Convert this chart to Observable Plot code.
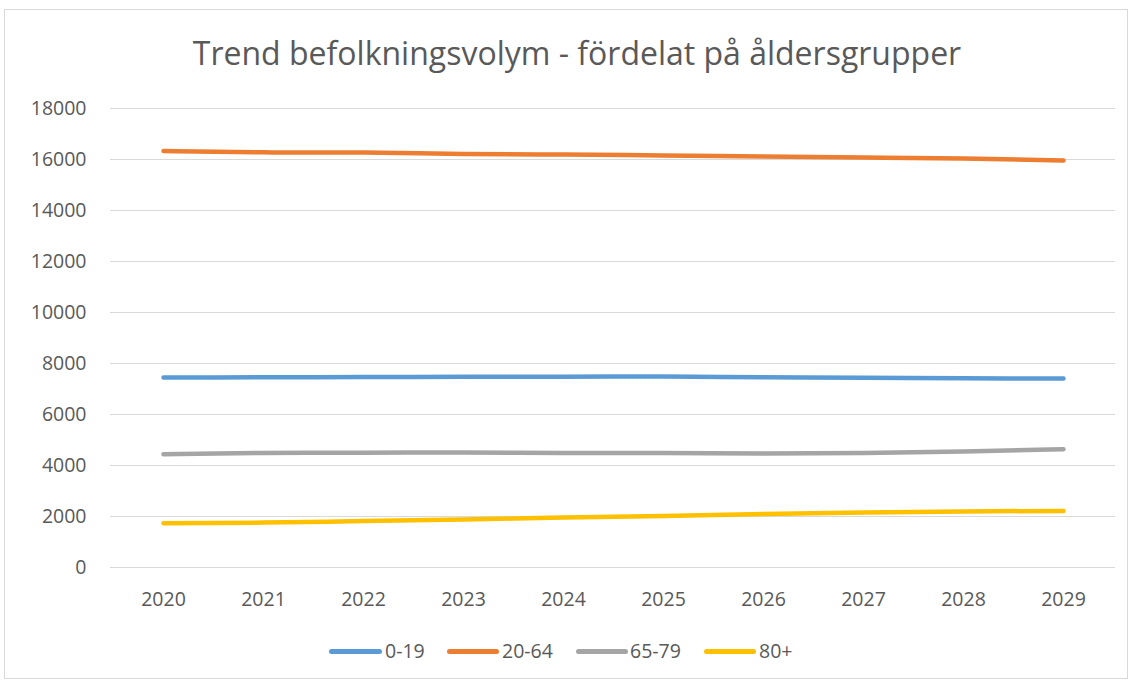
<!DOCTYPE html>
<html>
<head>
<meta charset="utf-8">
<script src="https://cdn.jsdelivr.net/npm/d3@7"></script>
<script src="https://cdn.jsdelivr.net/npm/@observablehq/plot@0.6"></script>
<style>
  html, body { margin: 0; padding: 0; background: #fff; }
  #wrap { position: relative; width: 1130px; height: 683px; overflow: hidden; font-family: "Open Sans", sans-serif; }
  #frame { position: absolute; left: 4px; top: 9px; width: 1124px; height: 670px; border: 1px solid #d9d9d9; box-sizing: border-box; }
  #title { position: absolute; left: 0; top: 37px; width: 1154px; text-align: center; font-size: 32px; color: #595959; line-height: 1; }
  #chart { position: absolute; left: 0; top: 90px; }
  #legend { position: absolute; left: 0; top: 640px; width: 1130px; height: 24px; }
  .item { position: absolute; top: 0; font-size: 19.5px; color: #595959; line-height: 22px; }
  .sw { position: absolute; top: 9px; height: 5px; border-radius: 3px; }
</style>
</head>
<body>
<div id="wrap">
  <div id="frame"></div>
  <div id="title">Trend befolkningsvolym - fördelat på åldersgrupper</div>
  <div id="chart"></div>
  <div id="legend"></div>
</div>
<script>
const years = [2020, 2021, 2022, 2023, 2024, 2025, 2026, 2027, 2028, 2029];
const seriesNames = ["0-19", "20-64", "65-79", "80+"];
const colors = ["#5B9BD5", "#ED7D31", "#A5A5A5", "#FFC000"];
const v0_19  = [7450, 7460, 7470, 7480, 7485, 7490, 7460, 7440, 7420, 7410];
const v20_64 = [16330, 16280, 16270, 16215, 16195, 16160, 16120, 16080, 16040, 15960];
const v65_79 = [4445, 4490, 4500, 4510, 4495, 4490, 4470, 4490, 4550, 4640];
const v80    = [1740, 1760, 1820, 1880, 1960, 2020, 2100, 2160, 2200, 2220];
const yTicks = [0, 2000, 4000, 6000, 8000, 10000, 12000, 14000, 16000, 18000];

const allValues = [v0_19, v20_64, v65_79, v80];
const data = [];
allValues.forEach((vals, s) => vals.forEach((v, i) => data.push({year: String(years[i]), value: v, series: seriesNames[s]})));

const plot = Plot.plot({
  width: 1130,
  height: 540,
  marginLeft: 110,
  marginRight: 15,
  marginTop: 18,
  marginBottom: 63,
  style: { fontFamily: "Open Sans, sans-serif", fontSize: "19.5px", color: "#595959", background: "transparent" },
  x: { type: "point", domain: years.map(String), padding: 0.5, label: null, tickSize: 0, tickPadding: 25 },
  y: { domain: [0, 18000], ticks: yTicks, label: null, tickSize: 0, tickPadding: 24, tickFormat: d => String(d) },
  color: { domain: seriesNames, range: colors },
  marks: [
    Plot.ruleY(yTicks.filter(d => d > 0), { stroke: "#d9d9d9", strokeWidth: 1 }),
    Plot.ruleY([0], { stroke: "#d9d9d9", strokeWidth: 1 }),
    Plot.line(data, { x: "year", y: "value", z: "series", stroke: "series", strokeWidth: 4.5, strokeLinecap: "round", strokeLinejoin: "round", curve: "monotone-x" })
  ]
});
document.getElementById("chart").appendChild(plot);

const legendPos = [[329, 382, 385], [447, 499, 502], [576, 628, 630], [704, 756, 759]];
const legend = document.getElementById("legend");
seriesNames.forEach((name, i) => {
  const sw = document.createElement("div");
  sw.className = "sw";
  sw.style.left = legendPos[i][0] + "px";
  sw.style.width = (legendPos[i][1] - legendPos[i][0]) + "px";
  sw.style.background = colors[i];
  legend.appendChild(sw);
  const t = document.createElement("div");
  t.className = "item";
  t.style.left = legendPos[i][2] + "px";
  t.textContent = name;
  legend.appendChild(t);
});
</script>
</body>
</html>
